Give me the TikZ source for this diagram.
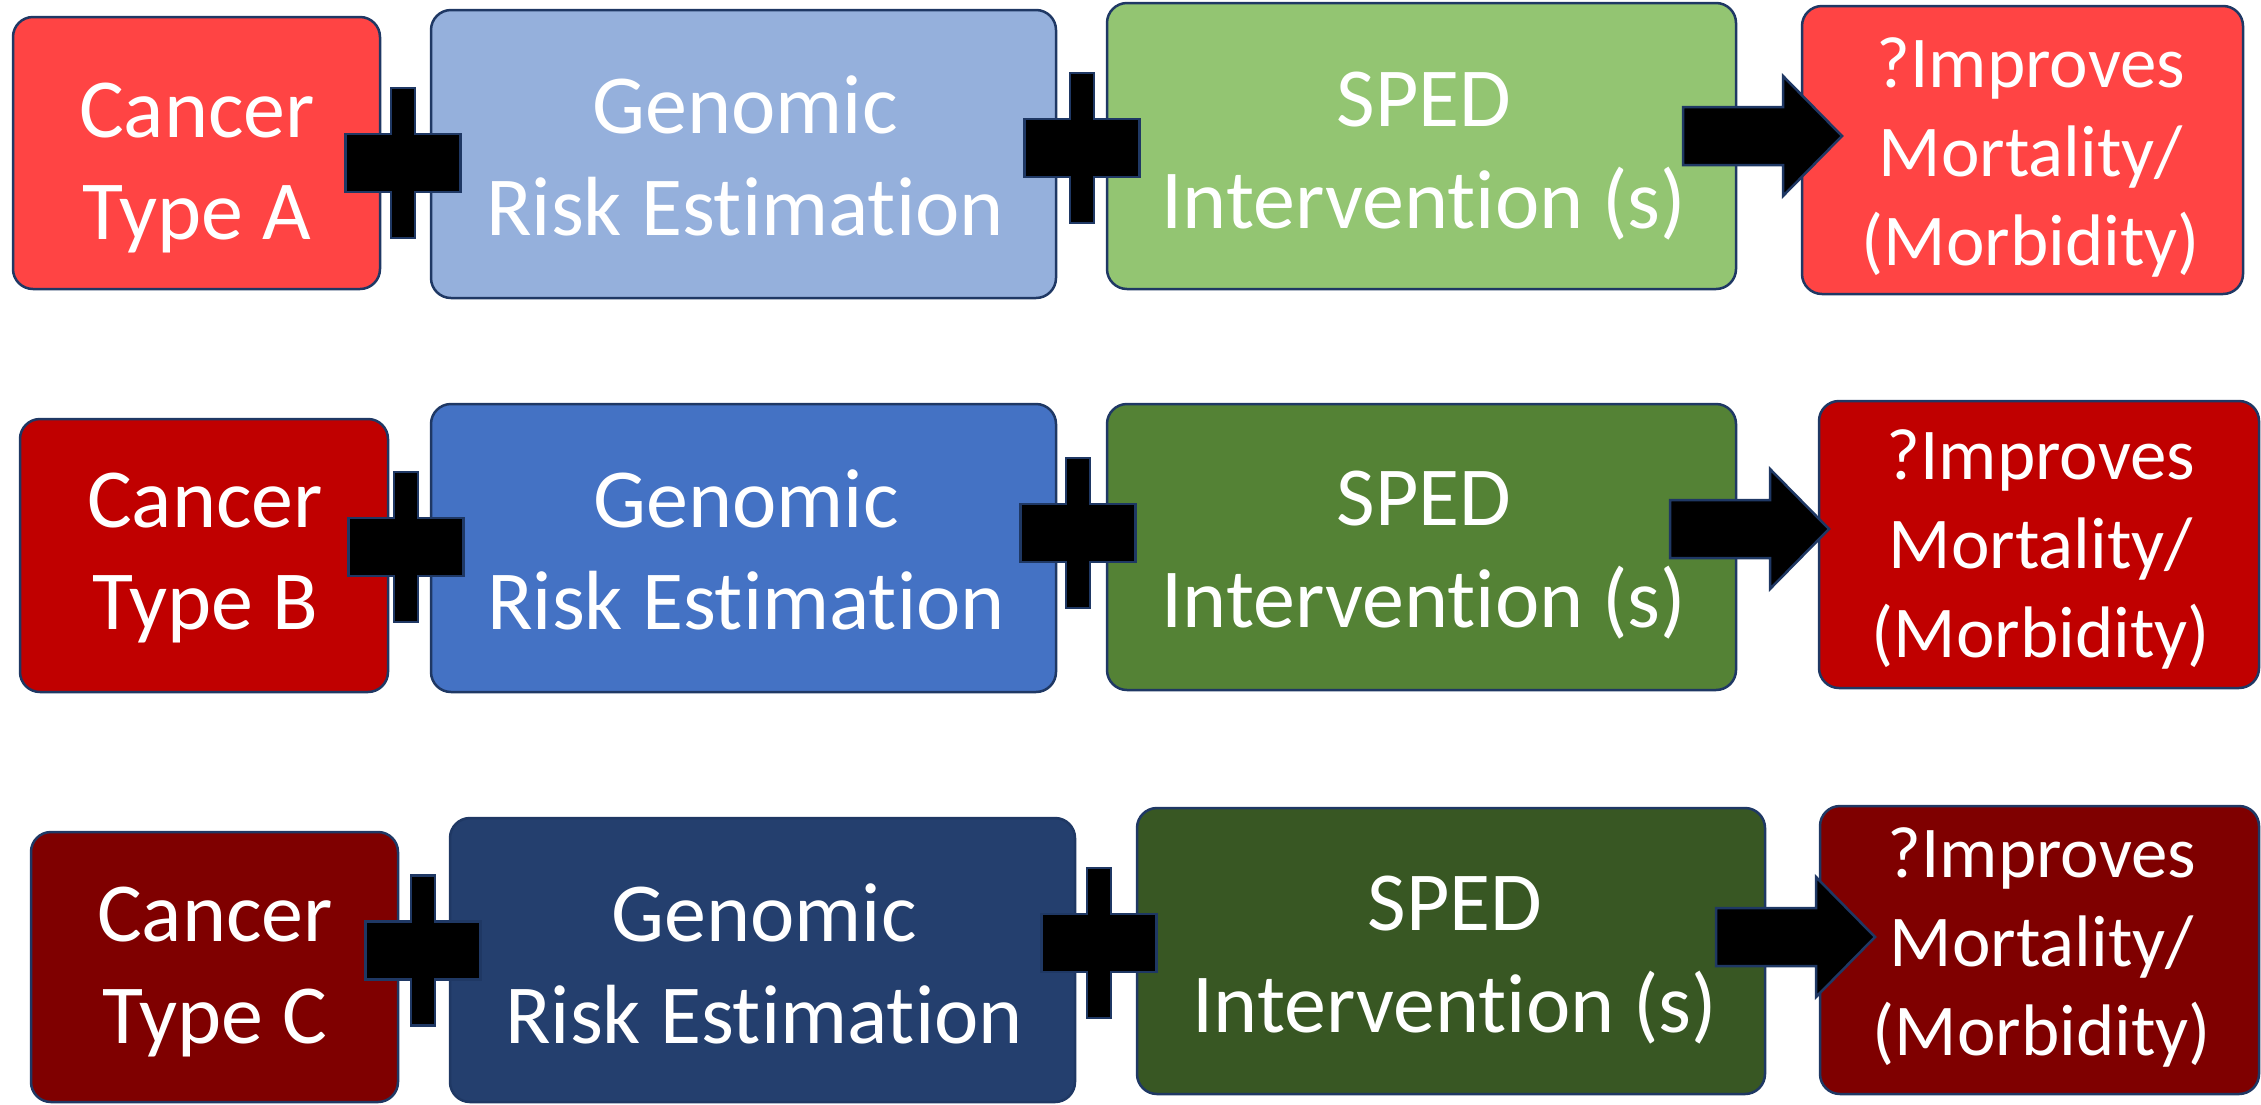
\documentclass[tikz,border=0pt]{standalone}
\usepackage{fontspec}
\setmainfont{Carlito}[Ligatures={NoCommon,NoRare,NoContextual}]
\definecolor{cRedL}{HTML}{FF4444}
\definecolor{cBlueL}{HTML}{95B0DC}
\definecolor{cGreenL}{HTML}{93C572}
\definecolor{cRedM}{HTML}{C00000}
\definecolor{cBlueM}{HTML}{4472C4}
\definecolor{cGreenM}{HTML}{548235}
\definecolor{cRedD}{HTML}{7F0000}
\definecolor{cBlueD}{HTML}{243F6E}
\definecolor{cGreenD}{HTML}{385723}
\definecolor{cEdge}{HTML}{1F3864}
\newcommand{\mlines}[1]{\vbox{\halign{\hfil##\hfil\cr#1\crcr}}}
\tikzset{
  box/.style={draw=cEdge, line width=2.5pt, rounded corners=20pt, inner sep=0pt},
  lbl/.style={text=white, inner sep=0pt, anchor=base, font=\fontsize{84}{102}\selectfont},
  lblsmall/.style={lbl, font=\fontsize{73}{89}\selectfont},
  blk/.style={fill=black, draw=cEdge, line width=2.5pt, line join=miter},
  plussign/.pic={
    \filldraw[blk] (-12,-75) -- (12,-75) -- (12,-29) -- (57.5,-29) -- (57.5,29)
      -- (12,29) -- (12,75) -- (-12,75) -- (-12,29) -- (-57.5,29) -- (-57.5,-29)
      -- (-12,-29) -- cycle;
  },
  blockarrow/.pic={
    \filldraw[blk] (0,-29) -- (100,-29) -- (100,-60) -- (159,0) -- (100,60)
      -- (100,29) -- (0,29) -- cycle;
  }
}
\begin{document}
\begin{tikzpicture}[x=1pt, y=-1pt]
\useasboundingbox (0,0) rectangle (2261,1104);
% row 1
\node[box, fill=cRedL, minimum width=367pt, minimum height=272pt] (a1) at (196.5,153) {};
\node[box, fill=cBlueL, minimum width=625pt, minimum height=288pt] (g1) at (743.5,154) {};
\node[box, fill=cGreenL, minimum width=629pt, minimum height=286pt] (s1) at (1421.5,146) {};
\node[box, fill=cRedL, minimum width=441pt, minimum height=288pt] (m1) at (2022.5,150) {};
% row 2
\node[box, fill=cRedM, minimum width=368pt, minimum height=273pt] (a2) at (204,555.5) {};
\node[box, fill=cBlueM, minimum width=625pt, minimum height=288pt] (g2) at (743.5,548) {};
\node[box, fill=cGreenM, minimum width=629pt, minimum height=286pt] (s2) at (1421.5,547) {};
\node[box, fill=cRedM, minimum width=440pt, minimum height=287pt] (m2) at (2039,544.5) {};
% row 3
\node[box, fill=cRedD, minimum width=367pt, minimum height=270pt] (a3) at (214.5,967) {};
\node[box, fill=cBlueD, minimum width=625pt, minimum height=284pt] (g3) at (762.5,960) {};
\node[box, fill=cGreenD, minimum width=628pt, minimum height=286pt] (s3) at (1451,951) {};
\node[box, fill=cRedD, minimum width=439pt, minimum height=288pt] (m3) at (2039.5,950) {};
% texts
\node[lbl] (a1t) at (197,239) {\mlines{Cancer\cr Type A}};
\node[lbl] (g1t) at (745,235) {\mlines{Genomic\cr Risk Estimation}};
\node[lbl] (s1t) at (1424,228) {\mlines{SPED\cr Intervention (s)}};
\node[lblsmall] (m1t) at (2031,265) {\mlines{?Improves\cr Mortality/\cr (Morbidity)}};
\node[lbl] (a2t) at (205,629) {\mlines{Cancer\cr Type B}};
\node[lbl] (g2t) at (746,629) {\mlines{Genomic\cr Risk Estimation}};
\node[lbl] (s2t) at (1424,627) {\mlines{SPED\cr Intervention (s)}};
\node[lblsmall] (m2t) at (2041,657) {\mlines{?Improves\cr Mortality/\cr (Morbidity)}};
\node[lbl] (a3t) at (215,1043) {\mlines{Cancer\cr Type C}};
\node[lbl] (g3t) at (764,1043) {\mlines{Genomic\cr Risk Estimation}};
\node[lbl] (s3t) at (1455,1032) {\mlines{SPED\cr Intervention (s)}};
\node[lblsmall] (m3t) at (2042,1055) {\mlines{?Improves\cr Mortality/\cr (Morbidity)}};
% plus signs
\pic (p1) at (403,163) {plussign};
\pic (p2) at (1082,148) {plussign};
\pic (p3) at (406,547) {plussign};
\pic (p4) at (1078,533) {plussign};
\pic (p5) at (423,950.5) {plussign};
\pic (p6) at (1099,943) {plussign};
% block arrows
\pic (r1) at (1683,136) {blockarrow};
\pic (r2) at (1670,529) {blockarrow};
\pic (r3) at (1716,937) {blockarrow};
\end{tikzpicture}
\end{document}
